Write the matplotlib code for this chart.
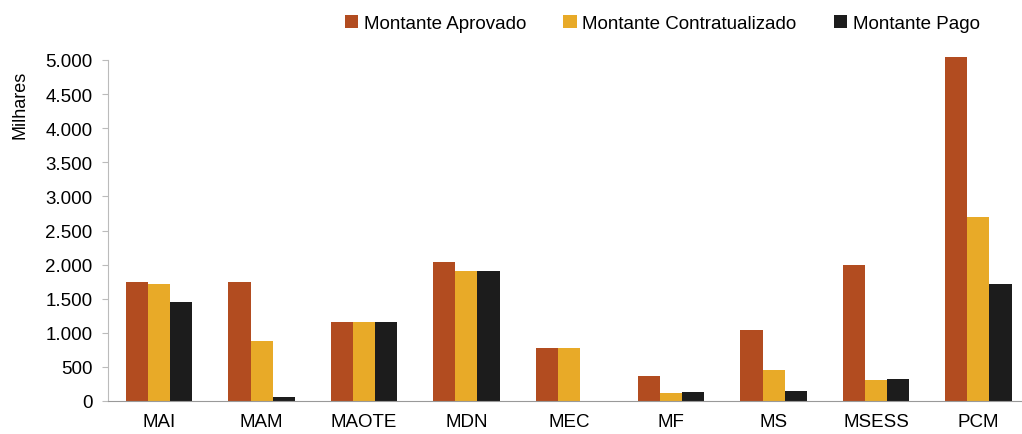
import matplotlib
matplotlib.use("Agg")
import matplotlib.pyplot as plt
import numpy as np
from matplotlib.ticker import FuncFormatter, MultipleLocator

categories = ["MAI", "MAM", "MAOTE", "MDN", "MEC", "MF", "MS", "MSESS", "PCM"]
aprovado = [1750, 1750, 1160, 2040, 770, 360, 1040, 1990, 5050]
contratualizado = [1720, 880, 1160, 1900, 770, 120, 450, 310, 2700]
pago = [1450, 60, 1160, 1900, 0, 130, 150, 320, 1720]
series_names = ["Montante Aprovado", "Montante Contratualizado", "Montante Pago"]
colors = ["#b24c20", "#e8aa28", "#1c1c1c"]

plt.rcParams['font.family'] = ['Liberation Sans', 'DejaVu Sans']

fig = plt.figure(figsize=(10.22, 4.35), dpi=100)
ax = fig.add_axes([108/1022, 1 - 402/435, (1022-108)/1022, (402-61)/435])

x = np.arange(len(categories))
w = 0.216
for i, (vals, name, c) in enumerate(zip([aprovado, contratualizado, pago], series_names, colors)):
    ax.bar(x + (i - 1) * w, vals, width=w, color=c, label=name, clip_on=False)

ax.set_xlim(-0.5, 8.426)
ax.set_ylim(0, 5000)
ax.yaxis.set_major_locator(MultipleLocator(500))
ax.yaxis.set_major_formatter(FuncFormatter(lambda v, p: f"{int(v):,}".replace(",", ".")))
ax.set_xticks(x)
ax.set_xticklabels(categories)
ax.tick_params(axis='x', length=0, pad=9, labelsize=13.5)
ax.tick_params(axis='y', length=4, color='#bbbbbb', pad=7, labelsize=13.5)
for s in ['top', 'right']:
    ax.spines[s].set_visible(False)
ax.spines['left'].set_color('#bbbbbb')
ax.spines['bottom'].set_color('#999999')
ax.set_ylabel("Milhares", fontsize=13)
ax.yaxis.set_label_coords(-0.087, 0.87)

leg = fig.legend(loc='upper center', bbox_to_anchor=(0.648, 1.003), ncol=3, frameon=False,
                 fontsize=13.5, handlelength=0.7, handleheight=0.7, handletextpad=0.3,
                 columnspacing=2.0)

fig.savefig("out.png", dpi=100)
